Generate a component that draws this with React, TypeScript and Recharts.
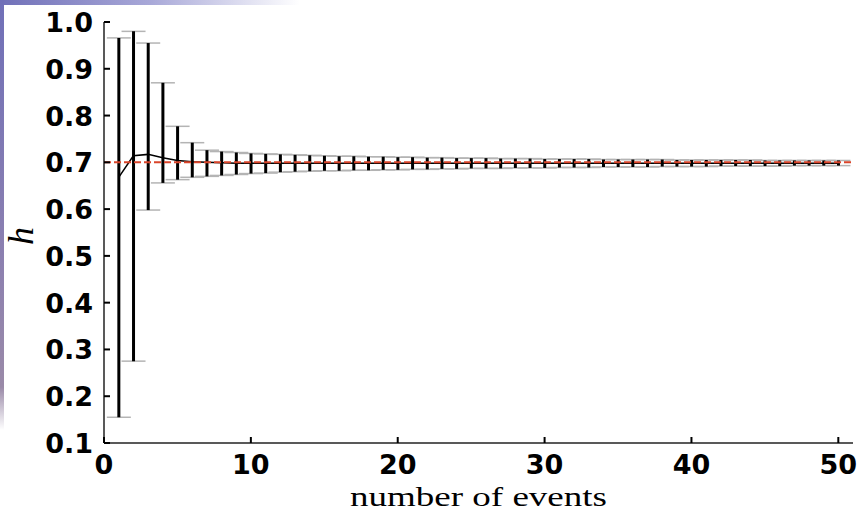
import React from 'react';
import { ComposedChart, Bar, Line, XAxis, YAxis, ReferenceLine, Label } from 'recharts';

const events = [
  1, 2, 3, 4, 5, 6, 7, 8, 9, 10, 11, 12, 13, 14, 15, 16, 17, 18, 19, 20, 21, 22, 23, 24, 25,
  26, 27, 28, 29, 30, 31, 32, 33, 34, 35, 36, 37, 38, 39, 40, 41, 42, 43, 44, 45, 46, 47, 48, 49, 50,
];
const upper = [
  0.966, 0.98, 0.955, 0.87, 0.777, 0.742, 0.726, 0.723, 0.721, 0.719,
  0.718, 0.717, 0.716, 0.715, 0.714, 0.713, 0.713, 0.712, 0.712, 0.711,
  0.711, 0.71, 0.71, 0.709, 0.709, 0.709, 0.708, 0.708, 0.708, 0.707,
  0.707, 0.707, 0.707, 0.706, 0.706, 0.706, 0.706, 0.706, 0.705, 0.705,
  0.705, 0.705, 0.705, 0.705, 0.704, 0.704, 0.704, 0.704, 0.704, 0.704,
];
const lower = [
  0.155, 0.275, 0.598, 0.656, 0.663, 0.668, 0.67, 0.672, 0.674, 0.676,
  0.677, 0.679, 0.68, 0.681, 0.682, 0.682, 0.683, 0.683, 0.684, 0.684,
  0.685, 0.685, 0.686, 0.686, 0.687, 0.687, 0.687, 0.688, 0.688, 0.688,
  0.689, 0.689, 0.689, 0.69, 0.69, 0.69, 0.69, 0.691, 0.691, 0.691,
  0.691, 0.692, 0.692, 0.692, 0.692, 0.692, 0.693, 0.693, 0.693, 0.693,
];
const meanH = [
  0.668, 0.714, 0.717, 0.71, 0.704, 0.701, 0.7, 0.699, 0.698, 0.698,
  0.698, 0.698, 0.698, 0.698, 0.698, 0.698, 0.698, 0.698, 0.698, 0.698,
  0.698, 0.698, 0.698, 0.698, 0.698, 0.698, 0.698, 0.698, 0.698, 0.698,
  0.698, 0.698, 0.698, 0.698, 0.698, 0.698, 0.698, 0.698, 0.698, 0.698,
  0.698, 0.698, 0.698, 0.698, 0.698, 0.698, 0.698, 0.698, 0.698, 0.698,
];
const trueH = 0.7;
const xTicks = [0, 10, 20, 30, 40, 50];
const yTicks = [0.1, 0.2, 0.3, 0.4, 0.5, 0.6, 0.7, 0.8, 0.9, 1.0];

const data = events.map((n, i) => ({ n, range: [lower[i], upper[i]], mean: meanH[i] }));

const TICK_FONT = { fontFamily: '"DejaVu Sans", sans-serif', fontWeight: 700, fontSize: 27, fill: '#000' };

const ErrShape = (props: any) => {
  const { x, y, width, height } = props;
  if (x == null || y == null) return null;
  const cx = x + width / 2;
  const top = Math.min(y, y + height);
  const bot = Math.max(y, y + height);
  return (
    <g>
      <line x1={cx - 12} x2={cx + 12} y1={top} y2={top} stroke="#b4b4b4" strokeWidth={1.5} />
      <line x1={cx - 12} x2={cx + 12} y1={bot} y2={bot} stroke="#b4b4b4" strokeWidth={1.5} />
      <line x1={cx} x2={cx} y1={top} y2={bot} stroke="#000" strokeWidth={3} />
    </g>
  );
};

const LeftTick = (props: any) => {
  const { x, y, payload } = props;
  return (
    <g>
      <line x1={x} x2={x + 6} y1={y} y2={y} stroke="#000" strokeWidth={2} />
      <text x={x - 11} y={y + 10} textAnchor="end" {...TICK_FONT}>
        {Number(payload.value).toFixed(1)}
      </text>
    </g>
  );
};
const RightTick = (props: any) => {
  const { x, y } = props;
  return <line x1={x} x2={x - 6} y1={y} y2={y} stroke="#000" strokeWidth={2} />;
};
const BottomTick = (props: any) => {
  const { x, y, payload } = props;
  return (
    <g>
      <line x1={x} x2={x} y1={y} y2={y - 6} stroke="#000" strokeWidth={2} />
      <text x={x} y={y + 31} textAnchor="middle" {...TICK_FONT}>
        {payload.value}
      </text>
    </g>
  );
};
const TopTick = (props: any) => {
  const { x, y } = props;
  return <line x1={x} x2={x} y1={y} y2={y + 6} stroke="#000" strokeWidth={2} />;
};

export default function App() {
  return (
    <div style={{ position: 'absolute', left: 0, top: 0, width: 860, height: 513, background: '#fff', overflow: 'hidden' }}>
      <div style={{ position: 'absolute', left: 0, top: 0, width: 300, height: 5, background: 'linear-gradient(to right, #7070b8, #a8a8d8 50%, rgba(255,255,255,0))' }} />
      <div style={{ position: 'absolute', left: 0, top: 0, width: 4, height: 430, background: 'linear-gradient(to bottom, #7070b8, #8c80b0 60%, #9a8aa8 90%, rgba(255,255,255,0))' }} />
      <ComposedChart
        width={860}
        height={513}
        data={data}
        margin={{ top: 22, right: 7, bottom: 30, left: 44 }}
        style={{ position: 'absolute', left: 0, top: 0 }}
      >
        <XAxis
          xAxisId="b"
          dataKey="n"
          type="number"
          domain={[0, 51]}
          ticks={xTicks}
          allowDataOverflow
          height={40}
          tickSize={0}
          tickMargin={0}
          tickLine={false}
          tick={<BottomTick />}
          axisLine={{ stroke: '#222', strokeWidth: 1.5 }}
          interval={0}
        >
          <Label
            content={(p: any) => {
              const vb = p.viewBox || {};
              return (
                <text
                  x={vb.x + vb.width / 2}
                  y={506}
                  textAnchor="middle"
                  fontFamily='"Liberation Serif", serif'
                  fontSize={28}
                  textLength={257}
                  lengthAdjust="spacingAndGlyphs"
                  fill="#000"
                >
                  number of events
                </text>
              );
            }}
          />
        </XAxis>
        <XAxis
          xAxisId="t"
          orientation="top"
          dataKey="n"
          type="number"
          domain={[0, 51]}
          ticks={xTicks}
          allowDataOverflow
          height={0}
          tickSize={0}
          tickMargin={0}
          tickLine={false}
          tick={<TopTick />}
          axisLine={{ stroke: '#222', strokeWidth: 1.5 }}
          interval={0}
        />
        <YAxis
          yAxisId="l"
          type="number"
          domain={[0.1, 1.0]}
          ticks={yTicks}
          allowDataOverflow
          width={60}
          tickSize={0}
          tickMargin={0}
          tickLine={false}
          tick={<LeftTick />}
          axisLine={{ stroke: '#222', strokeWidth: 1.5 }}
          interval={0}
        >
          <Label
            content={() => (
              <text
                x={33}
                y={236}
                transform="rotate(-90 33 236)"
                textAnchor="middle"
                fontFamily='"Liberation Serif", serif'
                fontStyle="italic"
                fontSize={36}
                fill="#000"
              >
                h
              </text>
            )}
          />
        </YAxis>
        <YAxis
          yAxisId="r"
          orientation="right"
          type="number"
          domain={[0.1, 1.0]}
          ticks={yTicks}
          allowDataOverflow
          width={0}
          tickSize={0}
          tickMargin={0}
          tickLine={false}
          tick={<RightTick />}
          axisLine={{ stroke: '#222', strokeWidth: 1.5 }}
          interval={0}
        />
        <Bar
          xAxisId="b"
          yAxisId="l"
          dataKey="range"
          barSize={3}
          shape={<ErrShape />}
          isAnimationActive={false}
        />
        <Line
          xAxisId="b"
          yAxisId="l"
          dataKey="mean"
          type="linear"
          stroke="#000"
          strokeWidth={1.5}
          dot={false}
          activeDot={false}
          isAnimationActive={false}
        />
        <ReferenceLine
          xAxisId="b"
          yAxisId="l"
          y={trueH}
          stroke="#d9452b"
          strokeWidth={2}
          strokeDasharray="7 3"
        />
      </ComposedChart>
    </div>
  );
}
